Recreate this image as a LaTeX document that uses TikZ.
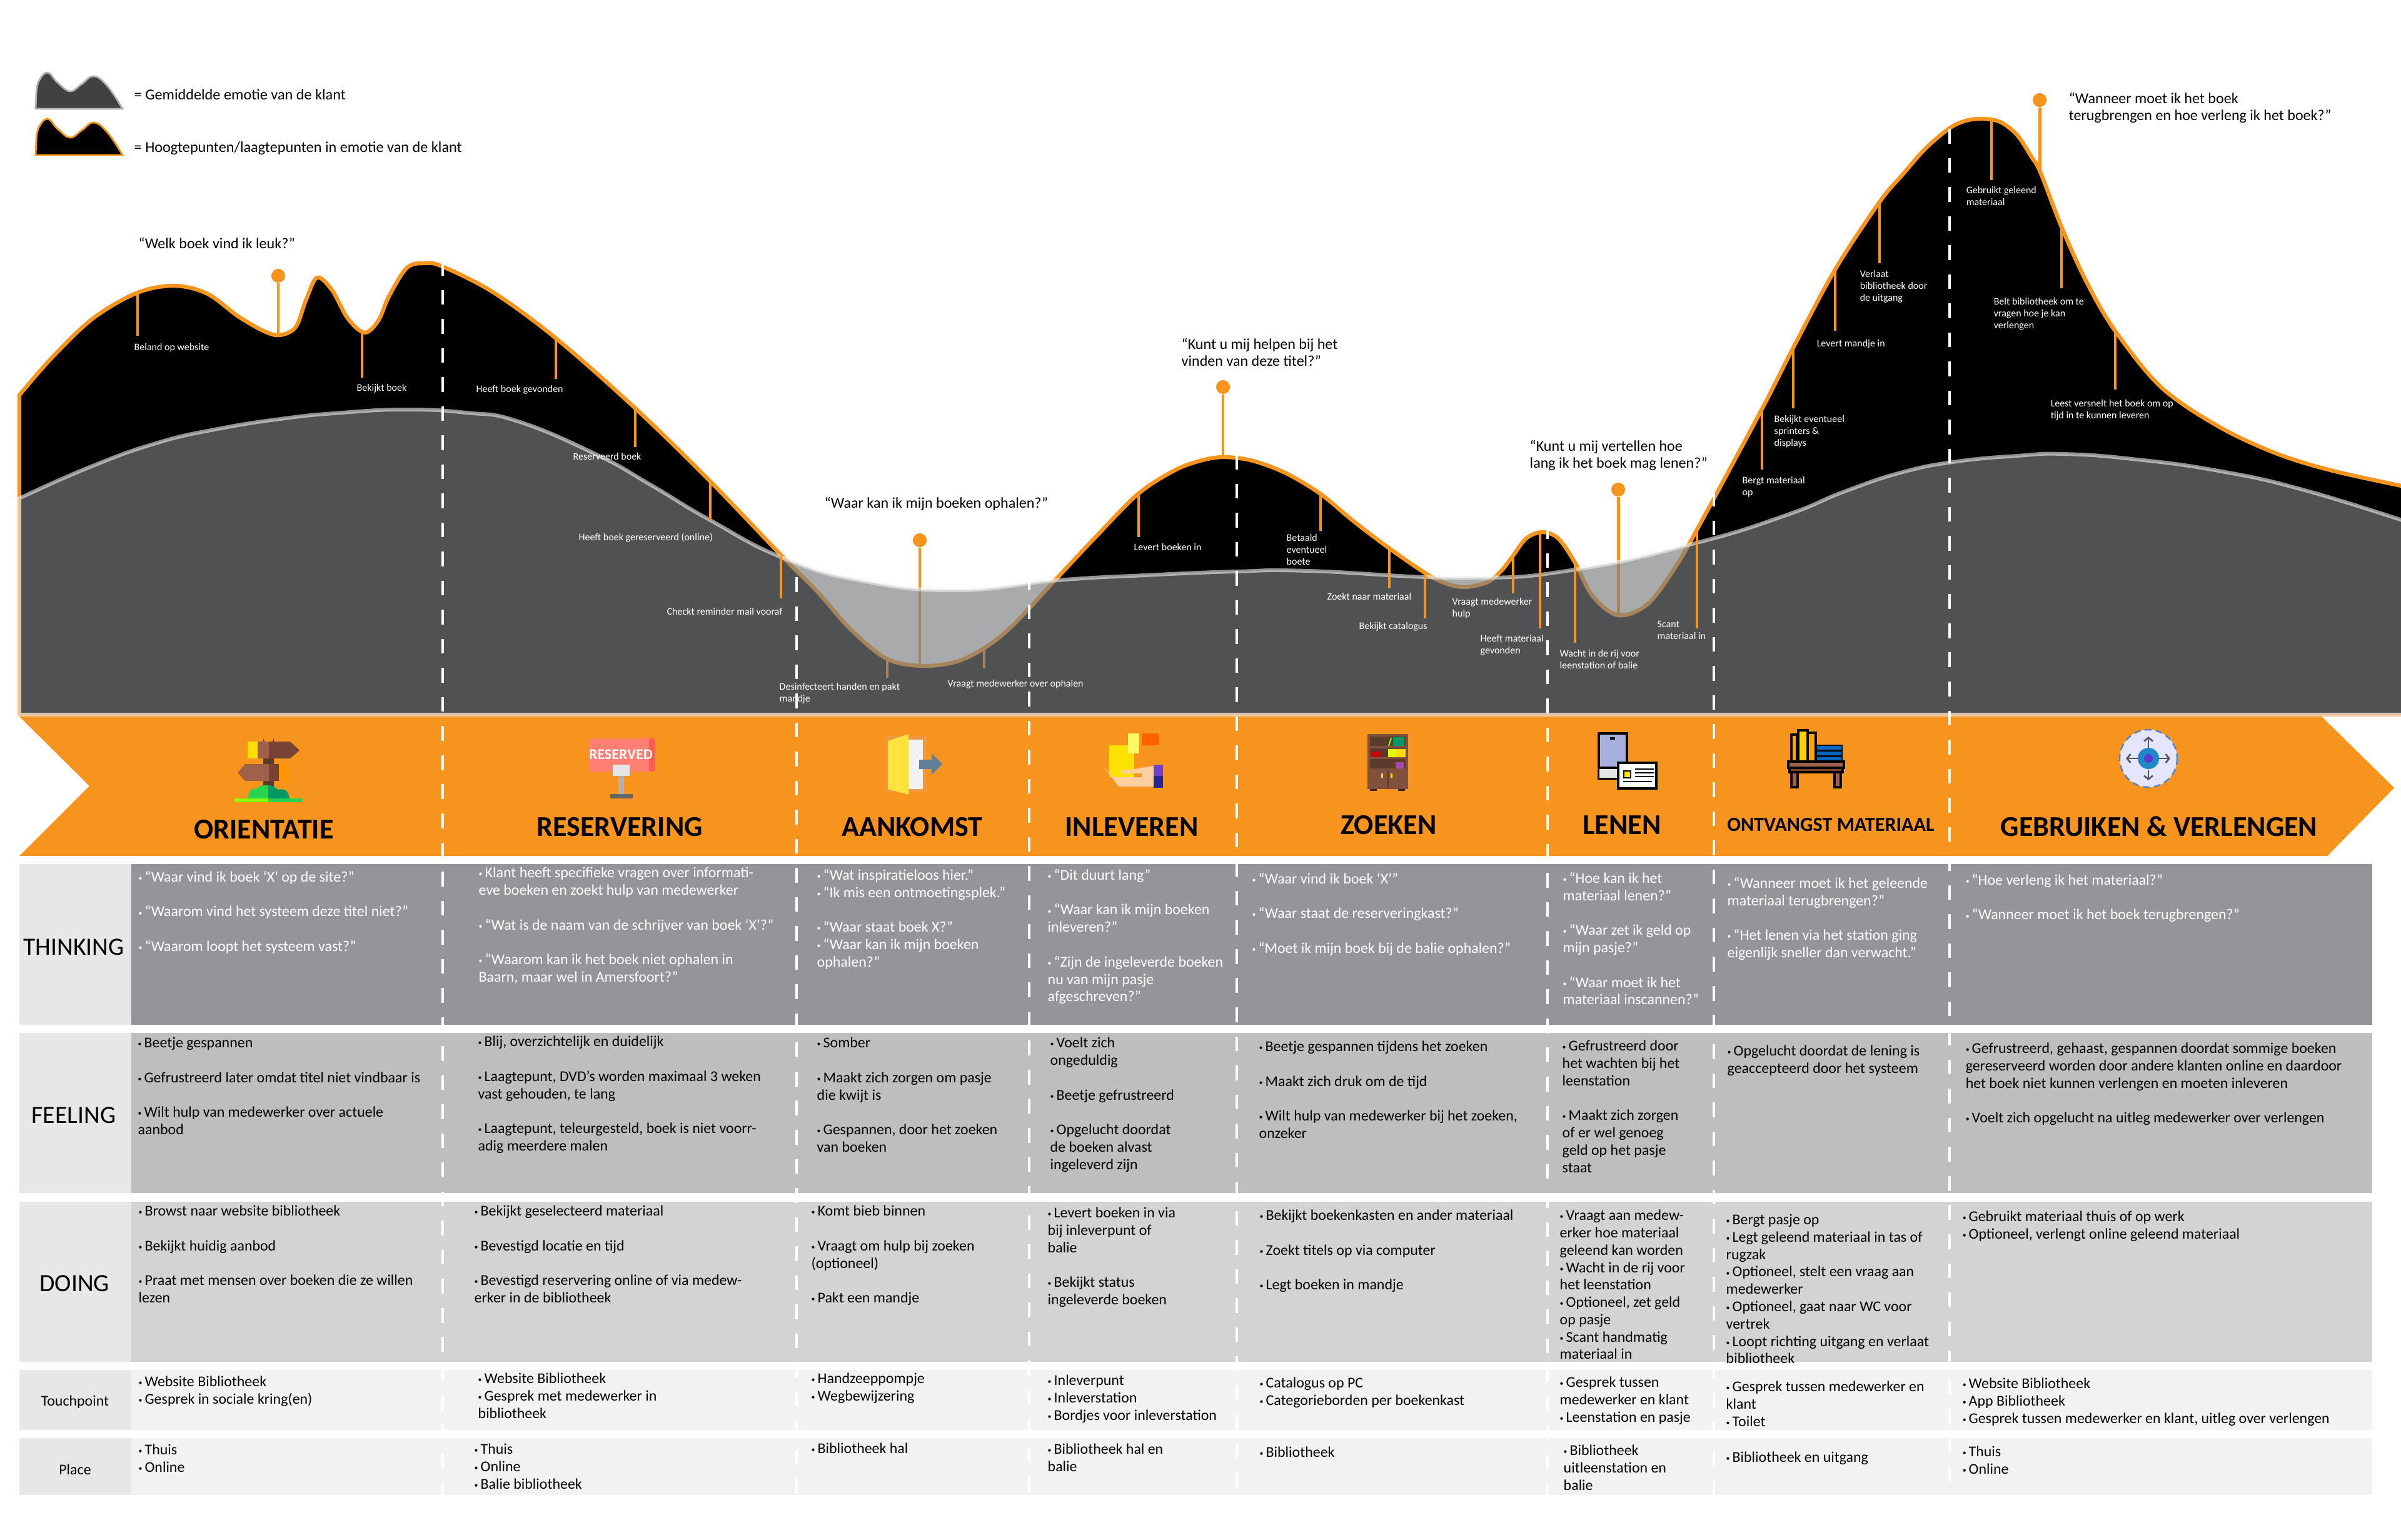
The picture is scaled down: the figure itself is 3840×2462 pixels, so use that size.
\documentclass[tikz,border=0pt]{standalone}
\usepackage{fontspec}
\setmainfont{Carlito}
\usetikzlibrary{%
    arrows.meta,
    positioning
}
\definecolor{bandorange}{HTML}{F7941D}
\definecolor{avggrey}{HTML}{7C7D7F}
\definecolor{thinkgrey}{HTML}{939598}
\definecolor{feelgrey}{HTML}{BCBEC0}
\definecolor{doinggrey}{HTML}{D1D3D4}
\definecolor{lightrow}{HTML}{F1F2F2}
\definecolor{headgrey}{HTML}{E6E7E8}
\definecolor{legendgrey}{HTML}{414042}
\definecolor{wooddark}{HTML}{784334}
\definecolor{woodlight}{HTML}{A0614A}
\definecolor{woodshelf}{HTML}{5A3A2A}
\definecolor{woodcase}{HTML}{80523E}
\definecolor{iconslate}{HTML}{5F7F98}
\definecolor{iconpeach}{HTML}{FDD0A2}
\newcommand{\blankline}{\\[7.9pt]}
% the bullet of the table is much smaller than the font's own
\catcode`•=\active
\def•{{\fontsize{3.4}{4}\selectfont\raisebox{.55pt}{\char"2022}}\hspace{-.4pt}}
\tikzset{
    emotionshape/.style = {fill=black,draw=bandorange,line width=1.8pt,line join=round},
    avgshape/.style = {fill=avggrey,fill opacity=.65,draw={rgb,255:red,240;green,240;blue,240},draw opacity=.6,line width=1.7pt},
    pinline/.style = {draw=bandorange,line width=1pt},
    quoteline/.style = {draw=bandorange,line width=1.4pt},
    pinhead/.style = {circle,fill=bandorange,minimum size=6.3pt,inner sep=0pt},
    pinlabel/.style = {anchor=north west,inner sep=0pt,align=left,text=white,yshift=2.3pt,
        execute at begin node=\strut,font=\fontsize{4.55}{5.4}\selectfont},
    quotelabel/.style = {anchor=north west,inner sep=0pt,align=left,yshift=3.1pt,
        execute at begin node=\strut,font=\fontsize{6.85}{7.9}\selectfont},
    cellbase/.style = {anchor=north west,inner sep=0pt,align=left,yshift=2.45pt,
        execute at begin node=\strut,font=\fontsize{6.8}{7.9}\selectfont},
    cellblack/.style = {cellbase},
    cellwhite/.style = {cellbase,text=white},
    stagetitle/.style = {inner sep=0pt,font=\bfseries\fontsize{13.1}{14}\selectfont},
    rowhead/.style = {inner sep=0pt,font=\fontsize{11.3}{12}\selectfont},
    rowsmall/.style = {inner sep=0pt,font=\fontsize{6.8}{8}\selectfont},
    laneline/.style = {draw=white,line width=1.05pt,dash pattern=on 6.7pt off 6.53pt},
    discarrow/.style = {draw=black!65,line width=.8pt,-{Straight Barb[length=1.6pt,width=4pt]}}
}

\begin{document}
\begin{tikzpicture}[x=.01cm,y=-.01cm]
    \useasboundingbox (0,0) rectangle (3840,2462);
    \fill[white] (0,0) rectangle (3840,2462);

    % legend
    \foreach \dy/\Fill/\Line/\ly/\Label in {%
        0/legendgrey/black!30/150/{= Gemiddelde emotie van de klant},
        74/black/bandorange/234/{= Hoogtepunten/laagtepunten in emotie van de klant}%
        }
        {
        \draw[fill=\Fill,draw=\Line,line width=.8pt,shift={(0,\dy)}] (57,174) --
            plot[smooth,tension=.7] coordinates {(58,150) (62,130) (76,116) (92,132) (112,146) (130,135) (150,122) (172,138) (196,174)}
            -- cycle;
        \node[quotelabel,font=\fontsize{6.9}{7.9}\selectfont] (legend-\dy) at (214,\ly) {\Label};
        }

    % emotion curve
    \path[emotionshape] (31,1143) -- (31,632) --
        plot[smooth,tension=.55] coordinates {(31,632) (83,572) (149,509) (220,468) (280,457) (332,470) (381,506) (423,530) (448,536) (473,523) (489,481) (507,444) (531,464) (556,509) (583,532) (605,513) (622,474) (651,428) (680,421) (707,426) (788,467) (889,541) (1016,653) (1136,770) (1254,893) (1307,946) (1361,1007) (1419,1054) (1477,1065) (1530,1058) (1575,1036) (1620,1000) (1691,924) (1754,857) (1820,790) (1879,752) (1923,736) (1959,731) (2004,737) (2057,757) (2112,790) (2164,833) (2222,877) (2280,917) (2312,933) (2343,939) (2379,931) (2401,913) (2421,887) (2441,861) (2466,851) (2492,861) (2519,900) (2547,953) (2588,984) (2634,967) (2675,914) (2714,847) (2818,654) (2868,556) (2935,431) (3006,323) (3043,279) (3080,237) (3118,205) (3144,193) (3170,190) (3199,195) (3226,216) (3249,251) (3263,275) (3297,363) (3337,451) (3382,528) (3456,619) (3548,682) (3640,725) (3731,753) (3860,781)}
        -- (3860,1143) -- cycle;

    % pins below the average shape
    \foreach \name/\x/\ya/\yb in {%
        desinfect/1419/1054/1084,
        ophalen/1574/1036/1069%
        }
        {
        \coordinate (\name-top) at (\x,\ya);
        \coordinate (\name-end) at (\x,\yb);
        \draw[pinline] (\name-top) -- (\name-end);
        }
    \foreach \name/\x/\ypin/\yend/\lx/\ly/\Label in {%
        welk/445/441/536/221/388/{“Welk boek vind ik leuk?”},
        waar/1471/864/1063/1318/803/{“Waar kan ik mijn boeken ophalen?”},
        helpen/1956/619/731/1889/551/{“Kunt u mij helpen bij het\\vinden van deze titel?”},
        vertellen/2588/783/984/2446/714/{“Kunt u mij vertellen hoe\\lang ik het boek mag lenen?”},
        wanneer/3262/160/275/3308/158/{“Wanneer moet ik het boek\\terugbrengen en hoe verleng ik het boek?”}%
        }
        {
        \node[pinhead] (\name-head) at (\x,\ypin) {};
        \coordinate (\name-foot) at (\x,\yend);
        \draw[quoteline] (\name-head) -- (\name-foot);
        \node[quotelabel] (\name-text) at (\lx,\ly) {\Label};
        }

    % average curve
    \path[avgshape] (31,1143) -- (31,797) --
        plot[smooth,tension=.8] coordinates {(31,797) (141,748) (249,709) (348,686) (456,669) (547,660) (647,655) (746,660) (829,674) (954,727) (1040,775) (1136,832) (1254,893) (1379,929) (1530,944) (1691,928) (1830,920) (1977,914) (2093,913) (2343,924) (2519,911) (2714,868) (2859,823) (2950,786) (3043,755) (3130,738) (3226,729) (3300,726) (3410,734) (3548,753) (3686,784) (3860,838)}
        -- (3860,1143) -- cycle;

    % pins on top
    \foreach \name/\x/\ya/\yb/\lx/\ly/\Label in {%
        beland/220/468/537/214/555/{Beland op website},
        bekijkt/579/532/604/570/620/{Bekijkt boek},
        gevonden/889/541/606/761/622/{Heeft boek gevonden},
        reserveerd/1016/653/715/916/730/{Reserveerd boek},
        gereserveerd/1136/770/832/925/859/{Heeft boek gereserveerd (online)},
        reminder/1249/888/957/1066/978/{Checkt reminder mail vooraf},
        levert/1821/790/859/1813/875/{Levert boeken in},
        betaald/2112/790/849/2057/862/{Betaald\\eventueel\\boete},
        zoekt/2222/877/941/2122/954/{Zoekt naar materiaal},
        catalogus/2279/917/989/2173/1001/{Bekijkt catalogus},
        hulp/2420/888/949/2322/964/{Vraagt medewerker\\hulp},
        materiaal/2463/852/1005/2367/1023/{Heeft materiaal\\gevonden},
        wacht/2519/897/1028/2494/1047/{Wacht in de rij voor\\leenstation of balie},
        scant/2714/847/1005/2650/1000/{Scant\\materiaal in},
        bergt/2818/654/751/2786/770/{Bergt materiaal\\op},
        sprinters/2868/556/653/2837/672/{Bekijkt eventueel\\sprinters \&\\displays},
        mandje/2935/431/529/2905/549/{Levert mandje in},
        verlaat/3006/323/421/2974/440/{Verlaat\\bibliotheek door\\de uitgang},
        gebruikt/3185/192/288/3144/306/{Gebruikt geleend\\materiaal},
        belt/3297/363/461/3188/484/{Belt bibliotheek om te\\vragen hoe je kan\\verlengen},
        leest/3383/528/623/3279/647/{Leest versnelt het boek om op\\tijd in te kunnen leveren}%
        }
        {
        \coordinate (\name-top) at (\x,\ya);
        \coordinate (\name-end) at (\x,\yb);
        \draw[pinline] (\name-top) -- (\name-end);
        \node[pinlabel] (\name-text) at (\lx,\ly) {\Label};
        }
    \node[pinlabel] (desinfect-text) at (1246,1100) {Desinfecteert handen en pakt\\mandje};
    \node[pinlabel] (ophalen-text) at (1515,1093) {Vraagt medewerker over ophalen};

    % orange band
    \fill[bandorange] (31,1146) -- (3713,1146) -- (3829,1260) -- (3722,1369) -- (31,1369) -- (143,1257) -- cycle;

    \foreach \name/\x/\y/\Label in {%
        orientatie/422/1327/ORIENTATIE,
        reservering/991/1323/RESERVERING,
        aankomst/1459/1323/AANKOMST,
        inleveren/1810/1323/INLEVEREN,
        zoeken/2221/1320/ZOEKEN,
        lenen/2594/1320/LENEN,
        gebruiken/3453/1322/{GEBRUIKEN \& VERLENGEN}%
        }
        \node[stagetitle] (\name) at (\x,\y) {\Label};
    \node[stagetitle,font=\bfseries\fontsize{9.15}{10}\selectfont] (ontvangst) at (2928,1319) {ONTVANGST MATERIAAL};

    % signpost
    \fill[woodshelf] (421,1186) -- (421,1180) arc (180:0:8.5) -- (438,1262) -- (421,1262) -- cycle;
    \fill[yellow!80!orange] (396,1186) rectangle (412,1213);
    \fill[woodlight] (412,1186) rectangle (430,1213);
    \fill[wooddark] (430,1186) -- (464,1186) -- (479,1200) -- (464,1213) -- (430,1213) -- cycle;
    \fill[woodlight] (430,1222) -- (392,1222) -- (380,1236) -- (392,1249) -- (430,1249) -- cycle;
    \fill[wooddark] (430,1222) rectangle (446,1249);
    \fill[orange!85!yellow] (446,1222) rectangle (461,1249);
    \fill[green!60!teal!85!white] (396,1277) .. controls (398,1262) and (405,1260) .. (410,1262) .. controls (415,1255) and (420,1256) .. (429,1256) -- (429,1277) -- cycle;
    \fill[teal!80!green] (429,1277) -- (429,1256) .. controls (436,1256) and (440,1258) .. (444,1263) .. controls (455,1260) and (461,1265) .. (463,1277) -- cycle;
    \fill[lime!70!green] (375,1277) rectangle (429,1283);
    \fill[green!60!teal!85!white] (429,1277) rectangle (483,1283);

    % reserved sign
    \fill[red!50!white!90!orange] (941,1181) rectangle (1038,1234);
    \fill[red!65!white!90!orange] (1038,1181) rectangle (1047,1234);
    \node[inner sep=0pt,text=white,font=\bfseries\fontsize{6.8}{8}\selectfont] (reserved) at (993,1207) {RESERVED};
    \fill[black!10] (980,1223) rectangle (1007,1241);
    \fill[black!30] (989,1241) rectangle (998,1270);
    \fill[black!60] (976,1270) rectangle (1012,1277);

    % door
    \fill[orange!70!brown!80!white] (1416,1177) rectangle (1482,1267);
    \fill[black!5] (1453,1183) rectangle (1476,1262);
    \fill[orange!30!yellow!75!white] (1420,1185) -- (1453,1174) -- (1453,1271) -- (1420,1262) -- cycle;
    \fill[iconslate] (1470,1215) rectangle (1490,1230);
    \fill[iconslate] (1490,1205) -- (1507,1222) -- (1490,1239) -- cycle;

    % hand with book
    \fill[red!25!orange] (1826,1173) rectangle (1853,1192);
    \fill[yellow!85!orange] (1774,1192) rectangle (1814,1243);
    \fill[yellow!60!white] (1804,1173) rectangle (1822,1205);
    \fill[iconpeach] (1766,1227) -- (1789,1258) -- (1845,1258) -- (1845,1225) -- (1814,1230) -- (1793,1232) -- (1793,1237) -- (1826,1237) -- (1826,1243) -- (1781,1243) -- cycle;
    \fill[blue!50!violet!75!white] (1845,1223) rectangle (1860,1241);
    \fill[blue!50!black!85!white] (1845,1241) rectangle (1860,1260);

    % bookcase
    \fill[woodcase] (2187,1174) rectangle (2252,1262);
    \fill[woodshelf] (2191,1178) rectangle (2248,1193);
    \fill[woodshelf] (2191,1197) rectangle (2248,1211);
    \fill[woodshelf] (2191,1214) rectangle (2248,1229);
    \fill[teal!80!green] (2228,1179) rectangle (2246,1193);
    \fill[lime!70!green] (2220,1193) -- (2224,1180) -- (2226,1180) -- (2222,1193) -- cycle;
    \fill[red!80!black] (2194,1202) rectangle (2208,1211);
    \fill[lime!50!yellow] (2220,1198) rectangle (2232,1211);
    \fill[yellow!80!orange] (2232,1198) rectangle (2248,1211);
    \fill[violet!70!white] (2232,1219) rectangle (2245,1229);
    \fill[black!70!brown] (2191,1262) rectangle (2202,1265);
    \fill[black!70!brown] (2236,1262) rectangle (2247,1265);
    \draw[woodshelf,line width=.5pt] (2220,1232) -- (2220,1260);
    \fill[yellow!80!orange] (2209,1237) rectangle (2212,1244);
    \fill[yellow!80!orange] (2224,1237) rectangle (2227,1244);

    % phone and card
    \draw[fill=cyan!30!blue!35!white,draw=black,line width=.9pt] (2557,1173) rectangle (2602,1245);
    \fill[black!10] (2558,1228) rectangle (2601,1244);
    \draw[black,line width=.9pt] (2557,1228) -- (2602,1228);
    \fill[black] (2575,1179) rectangle (2583,1183);
    \draw[fill=white,draw=black,line width=.9pt] (2588,1220) rectangle (2649,1261);
    \draw[fill=yellow!85!orange,draw=black,line width=.5pt] (2597,1233) rectangle (2608,1244);
    \foreach \y in {1230,1236,1242}
        \draw[black,line width=.8pt] (2615,\y) -- (2645,\y);
    \draw[black,line width=.8pt] (2596,1250) -- (2642,1250);

    % books on a table
    \draw[fill=orange!70!yellow,draw=black,line width=.9pt] (2865,1175) rectangle (2874,1218);
    \draw[fill=yellow!70!orange,draw=black,line width=.9pt] (2876,1168) rectangle (2891,1218);
    \draw[fill=orange!70!yellow,draw=black,line width=.9pt] (2891,1172) rectangle (2904,1218);
    \foreach \y in {1192,1201,1210}
        \draw[fill=blue!45!cyan!75!black,draw=black,line width=.7pt] (2905,\y) rectangle (2946,\y+8);
    \draw[fill=woodlight,draw=black,line width=.9pt] (2860,1218) rectangle (2949,1228);
    \draw[fill=wooddark,draw=black,line width=.9pt] (2862,1228) rectangle (2947,1235);
    \draw[fill=woodlight,draw=black,line width=.9pt] (2865,1235) rectangle (2875,1259);
    \draw[fill=woodlight,draw=black,line width=.9pt] (2934,1235) rectangle (2944,1259);

    % disc
    \draw[fill=blue!10!white,draw=cyan!50!blue!75!white,line width=.7pt,densely dashed] (3436,1213) circle (46);
    \draw[discarrow] (3436,1196) -- (3436,1178);
    \draw[discarrow] (3436,1231) -- (3436,1248);
    \draw[discarrow] (3419,1213) -- (3400,1213);
    \draw[discarrow] (3452,1213) -- (3471,1213);
    \fill[cyan!75!blue!90!black] (3436,1213) circle (17);
    \fill[blue!55!violet!80!white] (3436,1213) circle (7);

    % table rows
    \foreach \ya/\yb/\Fill in {%
        1382/1639/thinkgrey,
        1652/1908/feelgrey,
        1922/2178/doinggrey,
        2191/2287/lightrow,
        2300/2391/lightrow%
        }
        {
        \fill[headgrey] (31,\ya) rectangle (210,\yb);
        \fill[\Fill] (210,\ya) rectangle (3794,\yb);
        }
    \node[rowhead] (thinking) at (118,1515) {THINKING};
    \node[rowhead] (feeling) at (118,1784) {FEELING};
    \node[rowhead] (doing) at (119,2053) {DOING};
    \node[rowsmall] (touchpoint) at (120,2242) {Touchpoint};
    \node[rowsmall] (place) at (120,2350) {Place};

    % thinking
    \node[cellwhite] (think-1) at (221,1401) {• “Waar vind ik boek ‘X’ op de site?”\blankline• “Waarom vind het systeem deze titel niet?”\blankline• “Waarom loopt het systeem vast?”};
    \node[cellwhite] (think-2) at (765,1395) {• Klant heeft specifieke vragen over informati-\\eve boeken en zoekt hulp van medewerker\blankline• “Wat is de naam van de schrijver van boek ‘X’?”\blankline• “Waarom kan ik het boek niet ophalen in\\Baarn, maar wel in Amersfoort?”};
    \node[cellwhite] (think-3) at (1306,1398) {• “Wat inspiratieloos hier.”\\• “Ik mis een ontmoetingsplek.”\blankline• “Waar staat boek X?”\\• “Waar kan ik mijn boeken\\ophalen?”};
    \node[cellwhite] (think-4) at (1675,1398) {• “Dit duurt lang”\blankline• “Waar kan ik mijn boeken\\inleveren?”\blankline• “Zijn de ingeleverde boeken\\nu van mijn pasje\\afgeschreven?”};
    \node[cellwhite] (think-5) at (2002,1404) {• “Waar vind ik boek ‘X’”\blankline• “Waar staat de reserveringkast?”\blankline• “Moet ik mijn boek bij de balie ophalen?”};
    \node[cellwhite] (think-6) at (2499,1403) {• “Hoe kan ik het\\materiaal lenen?”\blankline• “Waar zet ik geld op\\mijn pasje?”\blankline• “Waar moet ik het\\materiaal inscannen?”};
    \node[cellwhite] (think-7) at (2762,1411) {• “Wanneer moet ik het geleende\\materiaal terugbrengen?”\blankline• “Het lenen via het station ging\\eigenlijk sneller dan verwacht.”};
    \node[cellwhite] (think-8) at (3143,1406) {• “Hoe verleng ik het materiaal?”\blankline• “Wanneer moet ik het boek terugbrengen?”};

    % feeling
    \node[cellblack] (feel-1) at (220,1667) {• Beetje gespannen\blankline• Gefrustreerd later omdat titel niet vindbaar is\blankline• Wilt hulp van medewerker over actuele\\aanbod};
    \node[cellblack] (feel-2) at (764,1665) {• Blij, overzichtelijk en duidelijk\blankline• Laagtepunt, DVD’s worden maximaal 3 weken\\vast gehouden, te lang\blankline• Laagtepunt, teleurgesteld, boek is niet voorr-\\adig meerdere malen};
    \node[cellblack] (feel-3) at (1306,1667) {• Somber\blankline• Maakt zich zorgen om pasje\\die kwijt is\blankline• Gespannen, door het zoeken\\van boeken};
    \node[cellblack] (feel-4) at (1679,1667) {• Voelt zich\\ongeduldig\blankline• Beetje gefrustreerd\blankline• Opgelucht doordat\\de boeken alvast\\ingeleverd zijn};
    \node[cellblack] (feel-5) at (2013,1673) {• Beetje gespannen tijdens het zoeken\blankline• Maakt zich druk om de tijd\blankline• Wilt hulp van medewerker bij het zoeken,\\onzeker};
    \node[cellblack] (feel-6) at (2498,1672) {• Gefrustreerd door\\het wachten bij het\\leenstation\blankline• Maakt zich zorgen\\of er wel genoeg\\geld op het pasje\\staat};
    \node[cellblack] (feel-7) at (2762,1680) {• Opgelucht doordat de lening is\\geaccepteerd door het systeem};
    \node[cellblack] (feel-8) at (3143,1676) {• Gefrustreerd, gehaast, gespannen doordat sommige boeken\\gereserveerd worden door andere klanten online en daardoor\\het boek niet kunnen verlengen en moeten inleveren\blankline• Voelt zich opgelucht na uitleg medewerker over verlengen};

    % doing
    \node[cellblack] (doing-1) at (221,1936) {• Browst naar website bibliotheek\blankline• Bekijkt huidig aanbod\blankline• Praat met mensen over boeken die ze willen\\lezen};
    \node[cellblack] (doing-2) at (758,1936) {• Bekijkt geselecteerd materiaal\blankline• Bevestigd locatie en tijd\blankline• Bevestigd reservering online of via medew-\\erker in de bibliotheek};
    \node[cellblack] (doing-3) at (1297,1936) {• Komt bieb binnen\blankline• Vraagt om hulp bij zoeken\\(optioneel)\blankline• Pakt een mandje};
    \node[cellblack] (doing-4) at (1675,1939) {• Levert boeken in via\\bij inleverpunt of\\balie\blankline• Bekijkt status\\ingeleverde boeken};
    \node[cellblack] (doing-5) at (2014,1943) {• Bekijkt boekenkasten en ander materiaal\blankline• Zoekt titels op via computer\blankline• Legt boeken in mandje};
    \node[cellblack] (doing-6) at (2494,1943) {• Vraagt aan medew-\\erker hoe materiaal\\geleend kan worden\\• Wacht in de rij voor\\het leenstation\\• Optioneel, zet geld\\op pasje\\• Scant handmatig\\materiaal in};
    \node[cellblack] (doing-7) at (2760,1950) {• Bergt pasje op\\• Legt geleend materiaal in tas of\\rugzak\\• Optioneel, stelt een vraag aan\\medewerker\\• Optioneel, gaat naar WC voor\\vertrek\\• Loopt richting uitgang en verlaat\\bibliotheek};
    \node[cellblack] (doing-8) at (3138,1945) {• Gebruikt materiaal thuis of op werk\\• Optioneel, verlengt online geleend materiaal};

    % touchpoint
    \node[cellblack] (touch-1) at (221,2209) {• Website Bibliotheek\\• Gesprek in sociale kring(en)};
    \node[cellblack] (touch-2) at (764,2204) {• Website Bibliotheek\\• Gesprek met medewerker in\\bibliotheek};
    \node[cellblack] (touch-3) at (1297,2204) {• Handzeeppompje\\• Wegbewijzering};
    \node[cellblack] (touch-4) at (1675,2207) {• Inleverpunt\\• Inleverstation\\• Bordjes voor inleverstation};
    \node[cellblack] (touch-5) at (2014,2211) {• Catalogus op PC\\• Categorieborden per boekenkast};
    \node[cellblack] (touch-6) at (2494,2210) {• Gesprek tussen\\medewerker en klant\\• Leenstation en pasje};
    \node[cellblack] (touch-7) at (2760,2217) {• Gesprek tussen medewerker en\\klant\\• Toilet};
    \node[cellblack] (touch-8) at (3138,2212) {• Website Bibliotheek\\• App Bibliotheek\\• Gesprek tussen medewerker en klant, uitleg over verlengen};

    % place
    \node[cellblack] (place-1) at (221,2318) {• Thuis\\• Online};
    \node[cellblack] (place-2) at (758,2317) {• Thuis\\• Online\\• Balie bibliotheek};
    \node[cellblack] (place-3) at (1297,2313) {• Bibliotheek hal};
    \node[cellblack] (place-4) at (1675,2317) {• Bibliotheek hal en\\balie};
    \node[cellblack] (place-5) at (2014,2319) {• Bibliotheek};
    \node[cellblack] (place-6) at (2500,2319) {• Bibliotheek\\uitleenstation en\\balie};
    \node[cellblack] (place-7) at (2760,2327) {• Bibliotheek en uitgang};
    \node[cellblack] (place-8) at (3138,2321) {• Thuis\\• Online};

    % lanes
    \foreach \i/\x/\ytop in {1/708/417,2/1274/923,3/1646/920,4/1978/727,5/2475/838,6/2741/786,7/3118/206}
        {
        \coordinate (lane-\i-top) at (\x,\ytop);
        \coordinate (lane-\i-end) at (\x,2391);
        \draw[laneline] (lane-\i-top) -- (lane-\i-end);
        }
\end{tikzpicture}
\end{document}
